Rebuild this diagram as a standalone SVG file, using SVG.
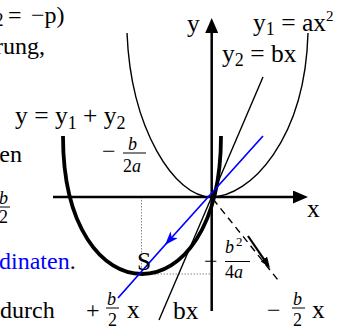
<svg xmlns="http://www.w3.org/2000/svg" width="346" height="329" viewBox="0 0 346 329">
<defs>
<style>
text { font-family: "Liberation Serif", "Times New Roman", serif; font-size: 24px; fill: #000; }
.lbl { font-size: 25.5px; }
.it { font-style: italic; }
.fr { font-size: 18px; }
.sub { font-size: 18px; }
.sup { font-size: 13px; }
.axis { stroke: #000; stroke-width: 2.5; fill: none; }
.thin { stroke: #000; stroke-width: 1.4; fill: none; }
.thick { stroke: #000; stroke-width: 3.8; fill: none; }
.blue { stroke: #0000ff; stroke-width: 1.7; fill: none; }
.dot { stroke: #888; stroke-width: 1; stroke-dasharray: 1.5 1.5; fill: none; }
.dash { stroke: #000; stroke-width: 1.4; stroke-dasharray: 7 5; fill: none; }
.bar { stroke: #000; stroke-width: 1; }
</style>
<marker id="ah" viewBox="0 0 15 13" refX="7" refY="6.5" markerWidth="15" markerHeight="13" markerUnits="userSpaceOnUse" orient="auto">
<path d="M0,0 L15,6.5 L0,13 z" fill="#000"/>
</marker>
<marker id="ahs" viewBox="0 0 11 8" refX="5" refY="4" markerWidth="11" markerHeight="8" markerUnits="userSpaceOnUse" orient="auto">
<path d="M0,0 L11,4 L0,8 z" fill="#000"/>
</marker>
<marker id="ahb" viewBox="0 0 14 10" refX="14" refY="5" markerWidth="14" markerHeight="10" markerUnits="userSpaceOnUse" orient="auto">
<path d="M14,5 L0,0 L4,5 L0,10 z" fill="#0000ff"/>
</marker>
</defs>

<g id="helpers">
<path class="dot" d="M141.5,197 V274 H210"/>
</g>

<g id="axes">
<line class="axis" x1="53" y1="197" x2="300" y2="197" marker-end="url(#ah)"/>
<line class="axis" x1="211.7" y1="311" x2="211.7" y2="26" marker-end="url(#ah)"/>
</g>

<g id="curves">
<path id="y1" class="thin" d="M127,33 C131,130 175,197 211,197 C250,197 305,140 308,33"/>
<line id="y2" class="thin" x1="263" y1="77" x2="159" y2="320"/>
<path id="ysum" class="thick" d="M63,136 C63,320 221,320 221,136"/>
<path id="tangent" class="blue" d="M263,136 L165,245 L118,298" marker-mid="url(#ahb)"/>
<line id="neg" class="dash" x1="213" y1="199" x2="278" y2="280"/>
<line id="negarrow" x1="248" y1="236" x2="266.6" y2="263.1" stroke="#000" stroke-width="2.2" marker-end="url(#ahs)"/>
</g>

<g id="labels">
<text class="lbl" x="187" y="32">y</text>
<text class="lbl" x="253" y="31">y<tspan class="sub" dy="4">1</tspan><tspan dy="-4"> = ax</tspan><tspan style="font-size:15px" dy="-10">2</tspan></text>
<text class="lbl" x="222" y="62">y<tspan class="sub" dy="4">2</tspan><tspan dy="-4"> = bx</tspan></text>
<text class="lbl" x="15" y="124">y = y<tspan class="sub" dy="5">1</tspan><tspan dy="-5"> + y</tspan><tspan class="sub" dy="5">2</tspan></text>
<text class="lbl" x="307" y="217">x</text>
<text class="lbl" x="137" y="270">S</text>
<text class="lbl" x="173" y="319">bx</text>

<g id="lbl-xs">
<text x="102" y="159">−</text>
<text class="it fr" x="128" y="150">b</text>
<line class="bar" x1="123" y1="153" x2="146" y2="153"/>
<text class="fr" x="123" y="172">2<tspan class="it">a</tspan></text>
</g>

<g id="lbl-ys">
<text x="204" y="269">−</text>
<text class="it fr" x="225" y="253">b</text>
<text class="sup" x="236" y="246">2</text>
<line class="bar" x1="225" y1="261.5" x2="250" y2="261.5"/>
<text class="fr" x="225" y="278">4<tspan class="it">a</tspan></text>
</g>

<g id="lbl-plus">
<text x="86" y="318">+</text>
<text class="it fr" x="107" y="305">b</text>
<line class="bar" x1="106" y1="308" x2="119" y2="308"/>
<text class="fr" x="108" y="326">2</text>
<text class="lbl" x="127" y="318">x</text>
</g>

<g id="lbl-minus">
<text x="267" y="318">−</text>
<text class="it fr" x="293" y="305">b</text>
<line class="bar" x1="292" y1="308" x2="305" y2="308"/>
<text class="fr" x="293" y="326">2</text>
<text class="lbl" x="312" y="318">x</text>
</g>
</g>

<g id="bodytext">
<text y="23"><tspan x="-5.5" dy="3" class="sub">2</tspan><tspan x="8" dy="-3">=</tspan><tspan x="31">−p)</tspan></text>
<text x="45" y="54" text-anchor="end">rung,</text>
<text x="22" y="162" text-anchor="end">en</text>
<text class="it fr" x="-1" y="204">b</text>
<line class="bar" x1="-1" y1="207" x2="10" y2="207"/>
<text class="fr" x="-1" y="223">2</text>
<text x="-1" y="269"><tspan fill="#0000ff">dinaten</tspan>.</text>
<text x="0" y="318">durch</text>
</g>
</svg>
